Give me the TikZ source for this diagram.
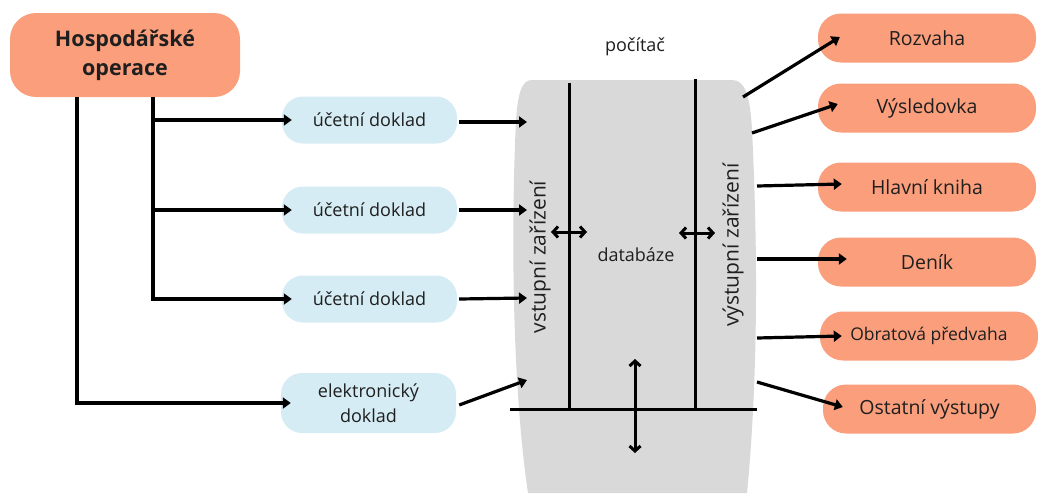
\documentclass[tikz,border=0pt]{standalone}
\usepackage{fontspec}
\setmainfont{Open Sans}
\usetikzlibrary{arrows.meta}
\definecolor{salmon}{HTML}{FA9E7C}
\definecolor{paleblue}{HTML}{D5ECF4}
\definecolor{pcgrey}{HTML}{D9D9D9}
\definecolor{ink}{HTML}{1F1F1F}
\tikzset{
  arr/.style={line width=3.2pt, -{Triangle[length=8pt,width=11pt]}},
  dblarr/.style={line width=3pt, {Straight Barb[length=5pt,width=11pt]}-{Straight Barb[length=5pt,width=11pt]}},
  bar/.style={line width=3pt},
  source/.style={fill=salmon, rounded corners=26pt, minimum width=230pt, minimum height=84pt,
    align=center, text=ink, font=\fontsize{21.5}{29}\selectfont\bfseries, inner sep=0pt},
  docbox/.style={fill=paleblue, rounded corners=21pt, minimum width=175pt, minimum height=47pt,
    align=center, text=ink, font=\fontsize{18}{25}\selectfont, inner sep=0pt},
  outbox/.style={fill=salmon, rounded corners=23pt, minimum width=218pt, minimum height=49pt,
    text=ink, font=\fontsize{19.5}{24}\selectfont, inner sep=0pt},
  label/.style={text=ink, font=\fontsize{18}{24}\selectfont, inner sep=0pt},
  sidelabel/.style={text=ink, font=\fontsize{21}{26}\selectfont, inner sep=0pt, rotate=90},
}
\begin{document}
\begin{tikzpicture}[x=1pt, y=-1pt]
\useasboundingbox (0,0) rectangle (1038,493);

% computer body
\fill[pcgrey] (532,80) -- (732,80)
  .. controls (745,80) and (750,95) .. (752,130)
  .. controls (758,250) and (758,380) .. (747,493)
  -- (528,493)
  .. controls (514,400) and (510,250) .. (516,120)
  .. controls (518,92) and (522,80) .. (532,80) -- cycle;

% source of operations
\node[source] (hosp) at (125,55) {Hospodářské\\operace};

% documents
\node[docbox] (d1) at (369.5,120) {účetní doklad};
\node[docbox] (d2) at (369.5,210) {účetní doklad};
\node[docbox] (d3) at (369.5,299) {účetní doklad};
\node[docbox, minimum height=60pt] (d4) at (368.5,403) {elektronický\\doklad};

% outputs
\node[outbox] (o1) at (927,38) {Rozvaha};
\node[outbox] (o2) at (927,108) {Výsledovka};
\node[outbox] (o3) at (927,187) {Hlavní kniha};
\node[outbox] (o4) at (927,262) {Deník};
\node[outbox, font=\fontsize{17.5}{21}\selectfont] (o5) at (929,336) {Obratová předvaha};
\node[outbox, minimum width=213pt] (o6) at (929.5,409) {Ostatní výstupy};

% labels of the computer
\node[label] (pc) at (635,47) {počítač};
\node[label] (db) at (636,255) {databáze};
\node[sidelabel] (vin) at (540,257) {vstupní zařízení};
\node[sidelabel] (vout) at (733,245) {výstupní zařízení};

% internal structure of the computer
\coordinate (inTop) at (569,83);
\coordinate (inBot) at (569,409);
\coordinate (outTop) at (695,79);
\coordinate (outBot) at (695,409);
\coordinate (busL) at (510,409);
\coordinate (busR) at (757,409);
\draw[bar] (inTop) -- (inBot);
\draw[bar] (outTop) -- (outBot);
\draw[bar] (busL) -- (busR);

\coordinate (xa1) at (551,232);
\coordinate (xa2) at (587,232);
\coordinate (xb1) at (679,233);
\coordinate (xb2) at (715,233);
\coordinate (xc1) at (635,359);
\coordinate (xc2) at (635,453);
\draw[dblarr] (xa1) -- (xa2);
\draw[dblarr] (xb1) -- (xb2);
\draw[dblarr] (xc1) -- (xc2);

% operations to documents
\draw[arr] ([xshift=28pt]hosp.south) |- ([xshift=10pt]d1.west);
\draw[arr] ([xshift=28pt]hosp.south) |- ([xshift=10pt]d2.west);
\draw[arr] ([xshift=28pt]hosp.south) |- ([xshift=10pt]d3.west);
\draw[arr] ([xshift=-48pt]hosp.south) |- ([xshift=10pt]d4.west);

% documents to input devices
\coordinate (in1) at (527,122);
\coordinate (in2) at (527,210);
\coordinate (in3) at (527,298);
\coordinate (in4) at (527,380);
\draw[arr] ([xshift=2pt,yshift=-2pt]d1.east) -- (in1);
\draw[arr] ([xshift=2pt]d2.east) -- (in2);
\draw[arr] ([xshift=2pt]d3.east) -- (in3);
\draw[arr] ([xshift=3pt,yshift=-2pt]d4.east) -- (in4);

% output devices to reports
\coordinate (q1) at (743,97);
\coordinate (q2) at (752,133);
\coordinate (q3) at (757,186);
\coordinate (q4) at (757,259);
\coordinate (q5) at (757,338);
\coordinate (q6) at (757,382);
\draw[arr] (q1) -- ([xshift=22pt,yshift=1pt]o1.west);
\draw[arr] (q2) -- ([xshift=20pt,yshift=4pt]o2.west);
\draw[arr] (q3) -- ([xshift=24pt,yshift=3pt]o3.west);
\draw[arr] (q4) -- ([xshift=29pt,yshift=3pt]o4.west);
\draw[arr] (q5) -- ([xshift=22pt]o5.west);
\draw[arr] (q6) -- ([xshift=20pt,yshift=2pt]o6.west);
\end{tikzpicture}
\end{document}
